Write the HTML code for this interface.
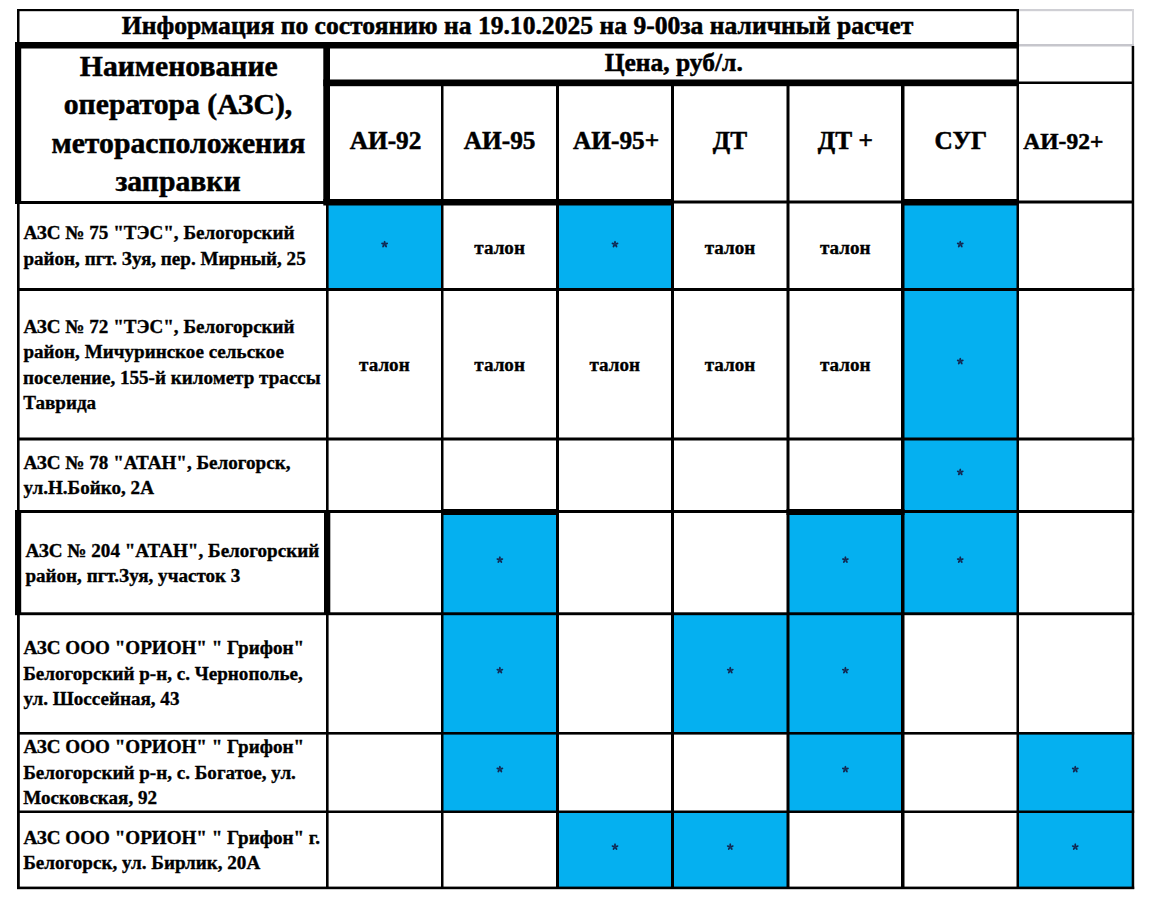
<!DOCTYPE html>
<html><head><meta charset="utf-8"><title>table</title>
<style>
html,body{margin:0;padding:0;background:#fff;width:1151px;height:905px;overflow:hidden}
svg{display:block;font-family:"Liberation Serif",serif;font-weight:bold}
text{stroke:#000;stroke-width:0.5px;paint-order:stroke}
</style></head><body>
<svg width="1151" height="905" viewBox="0 0 1151 905">
<defs><g id="st" fill="#13264f"><ellipse cx="0" cy="-2" rx="0.95" ry="1.6" transform="rotate(0)"/><ellipse cx="0" cy="-2" rx="0.95" ry="1.6" transform="rotate(72)"/><ellipse cx="0" cy="-2" rx="0.95" ry="1.6" transform="rotate(144)"/><ellipse cx="0" cy="-2" rx="0.95" ry="1.6" transform="rotate(216)"/><ellipse cx="0" cy="-2" rx="0.95" ry="1.6" transform="rotate(288)"/><circle r="0.8"/></g></defs>
<rect x="327" y="202.5" width="115.2" height="87" fill="#05B0F0"/>
<rect x="557.5" y="202.5" width="115" height="87" fill="#05B0F0"/>
<rect x="902.8" y="202.5" width="114.9" height="87" fill="#05B0F0"/>
<rect x="902.8" y="289.5" width="114.9" height="149" fill="#05B0F0"/>
<rect x="902.8" y="438.5" width="114.9" height="73" fill="#05B0F0"/>
<rect x="442.2" y="511.5" width="115.3" height="102" fill="#05B0F0"/>
<rect x="788" y="511.5" width="114.8" height="102" fill="#05B0F0"/>
<rect x="902.8" y="511.5" width="114.9" height="102" fill="#05B0F0"/>
<rect x="442.2" y="613.5" width="115.3" height="119.7" fill="#05B0F0"/>
<rect x="672.5" y="613.5" width="115.5" height="119.7" fill="#05B0F0"/>
<rect x="788" y="613.5" width="114.8" height="119.7" fill="#05B0F0"/>
<rect x="442.2" y="733.2" width="115.3" height="78.5" fill="#05B0F0"/>
<rect x="788" y="733.2" width="114.8" height="78.5" fill="#05B0F0"/>
<rect x="1017.7" y="733.2" width="115.1" height="78.5" fill="#05B0F0"/>
<rect x="557.5" y="811.7" width="115" height="76.1" fill="#05B0F0"/>
<rect x="672.5" y="811.7" width="115.5" height="76.1" fill="#05B0F0"/>
<rect x="1017.7" y="811.7" width="115.1" height="76.1" fill="#05B0F0"/>
<rect x="17" y="9" width="1002" height="2.2" fill="#000"/>
<rect x="1019" y="9" width="115" height="2.2" fill="#cfcfd4"/>
<rect x="1132" y="9" width="2" height="37" fill="#d6d6da"/>
<rect x="1019" y="44" width="115" height="2.5" fill="#c6c6cc"/>
<rect x="17" y="9" width="2.5" height="36" fill="#000"/>
<rect x="1016.5" y="9" width="2.5" height="880" fill="#000"/>
<rect x="15" y="42" width="1004" height="6.5" fill="#000"/>
<rect x="15" y="42" width="6.2" height="161.5" fill="#000"/>
<rect x="323.3" y="42" width="6.7" height="161.5" fill="#000"/>
<rect x="323.3" y="79.5" width="695.7" height="6.7" fill="#000"/>
<rect x="1019" y="81.5" width="115" height="2.5" fill="#000"/>
<rect x="1131.7" y="46" width="2.5" height="843" fill="#000"/>
<rect x="15" y="201" width="315" height="3" fill="#000"/>
<rect x="323.3" y="199" width="350.7" height="6.5" fill="#000"/>
<rect x="672" y="200.5" width="231" height="3" fill="#000"/>
<rect x="901" y="199" width="118" height="6.5" fill="#000"/>
<rect x="1017" y="200.5" width="117" height="3" fill="#000"/>
<rect x="441" y="82" width="2.5" height="807" fill="#000"/>
<rect x="556" y="82" width="3" height="807" fill="#000"/>
<rect x="671" y="82" width="3" height="807" fill="#000"/>
<rect x="786.5" y="82" width="3" height="807" fill="#000"/>
<rect x="901" y="82" width="3.5" height="807" fill="#000"/>
<rect x="17" y="203" width="2.6" height="308" fill="#000"/>
<rect x="15" y="510" width="6.2" height="105" fill="#000"/>
<rect x="17" y="613" width="2.8" height="276" fill="#000"/>
<rect x="326" y="203" width="2.6" height="308" fill="#000"/>
<rect x="324" y="510" width="6.3" height="105" fill="#000"/>
<rect x="326" y="613" width="2.6" height="276" fill="#000"/>
<rect x="17" y="288" width="1117.2" height="3" fill="#000"/>
<rect x="17" y="437.5" width="1117.2" height="3" fill="#000"/>
<rect x="15" y="510" width="1119.2" height="3" fill="#000"/>
<rect x="15" y="612.3" width="1119.2" height="2.9" fill="#000"/>
<rect x="17" y="732" width="1117.2" height="2.6" fill="#000"/>
<rect x="17" y="810.5" width="1117.2" height="2.5" fill="#000"/>
<rect x="17" y="886.6" width="1117.2" height="2.6" fill="#000"/>
<rect x="441" y="509" width="118" height="6" fill="#000"/>
<rect x="786.5" y="509" width="118" height="6" fill="#000"/>
<text x="121.85" y="33.6" font-size="25.6">Информация по состоянию на 19.10.2025 на 9-00за наличный расчет</text>
<text x="604.68" y="71.2" font-size="25.5">Цена, руб/л.</text>
<text x="79.8" y="75.8" font-size="29.7">Наименование</text>
<text x="63.75" y="113.9" font-size="29.7">оператора (АЗС),</text>
<text x="51.48" y="152.7" font-size="29.7">меторасположения</text>
<text x="115.43" y="190.7" font-size="29.7">заправки</text>
<text x="349.73" y="149.3" font-size="25.3">АИ-92</text>
<text x="463.85" y="149.3" font-size="25.3">АИ-95</text>
<text x="573.1" y="149.3" font-size="25.3">АИ-95+</text>
<text x="712.77" y="149.3" font-size="25.3">ДТ</text>
<text x="817.81" y="149.3" font-size="25.3">ДТ +</text>
<text x="934.56" y="149.3" font-size="25.3">СУГ</text>
<text x="1023.37" y="148.5" font-size="23.5">АИ-92+</text>
<text x="23.41" y="239.3" font-size="19.1" style="stroke-width:0.35px">АЗС № 75 &quot;ТЭС&quot;, Белогорский</text>
<text x="23.41" y="264.7" font-size="19.1" style="stroke-width:0.35px">район, пгт. Зуя, пер. Мирный, 25</text>
<text x="23.41" y="332.8" font-size="19.1" style="stroke-width:0.35px">АЗС № 72 &quot;ТЭС&quot;, Белогорский</text>
<text x="23.41" y="358.2" font-size="19.1" style="stroke-width:0.35px">район, Мичуринское сельское</text>
<text x="23.03" y="383.6" font-size="19.1" style="stroke-width:0.35px">поселение, 155-й километр трассы</text>
<text x="23.22" y="409" font-size="19.1" style="stroke-width:0.35px">Таврида</text>
<text x="23.41" y="468.9" font-size="19.1" style="stroke-width:0.35px">АЗС № 78 &quot;АТАН&quot;, Белогорск,</text>
<text x="23.41" y="494.4" font-size="19.1" style="stroke-width:0.35px">ул.Н.Бойко, 2А</text>
<text x="25.41" y="556.5" font-size="19.1" style="stroke-width:0.35px">АЗС № 204 &quot;АТАН&quot;, Белогорский</text>
<text x="25.41" y="581.7" font-size="19.1" style="stroke-width:0.35px">район, пгт.Зуя, участок 3</text>
<text x="23.41" y="654.4" font-size="19.1" style="stroke-width:0.35px">АЗС ООО &quot;ОРИОН&quot; &quot; Грифон&quot;</text>
<text x="23.22" y="679.8" font-size="19.1" style="stroke-width:0.35px">Белогорский р-н, с. Чернополье,</text>
<text x="23.41" y="705.1" font-size="19.1" style="stroke-width:0.35px">ул. Шоссейная, 43</text>
<text x="23.41" y="753.2" font-size="19.1" style="stroke-width:0.35px">АЗС ООО &quot;ОРИОН&quot; &quot; Грифон&quot;</text>
<text x="23.22" y="778.5" font-size="19.1" style="stroke-width:0.35px">Белогорский р-н, с. Богатое, ул.</text>
<text x="23.22" y="804" font-size="19.1" style="stroke-width:0.35px">Московская, 92</text>
<text x="23.41" y="843.5" font-size="19.1" style="stroke-width:0.35px">АЗС ООО &quot;ОРИОН&quot; &quot; Грифон&quot; г.</text>
<text x="23.22" y="869.1" font-size="19.1" style="stroke-width:0.35px">Белогорск, ул. Бирлик, 20А</text>
<text x="474.33" y="253.6" font-size="19.1" style="stroke-width:0.35px">талон</text>
<text x="704.73" y="253.6" font-size="19.1" style="stroke-width:0.35px">талон</text>
<text x="819.88" y="253.6" font-size="19.1" style="stroke-width:0.35px">талон</text>
<text x="359.08" y="370.7" font-size="19.1" style="stroke-width:0.35px">талон</text>
<text x="474.33" y="370.7" font-size="19.1" style="stroke-width:0.35px">талон</text>
<text x="589.48" y="370.7" font-size="19.1" style="stroke-width:0.35px">талон</text>
<text x="704.73" y="370.7" font-size="19.1" style="stroke-width:0.35px">талон</text>
<text x="819.88" y="370.7" font-size="19.1" style="stroke-width:0.35px">талон</text>
<use href="#st" x="384.6" y="244.3"/>
<use href="#st" x="615" y="244.3"/>
<use href="#st" x="960.25" y="244.3"/>
<use href="#st" x="960.25" y="361.3"/>
<use href="#st" x="960.25" y="472.2"/>
<use href="#st" x="499.85" y="559.85"/>
<use href="#st" x="845.4" y="559.85"/>
<use href="#st" x="960.25" y="559.85"/>
<use href="#st" x="499.85" y="670.4"/>
<use href="#st" x="730.25" y="670.4"/>
<use href="#st" x="845.4" y="670.4"/>
<use href="#st" x="499.85" y="769.3"/>
<use href="#st" x="845.4" y="769.3"/>
<use href="#st" x="1075.25" y="769.3"/>
<use href="#st" x="615" y="846.9"/>
<use href="#st" x="730.25" y="846.9"/>
<use href="#st" x="1075.25" y="846.9"/>
</svg>
</body></html>
